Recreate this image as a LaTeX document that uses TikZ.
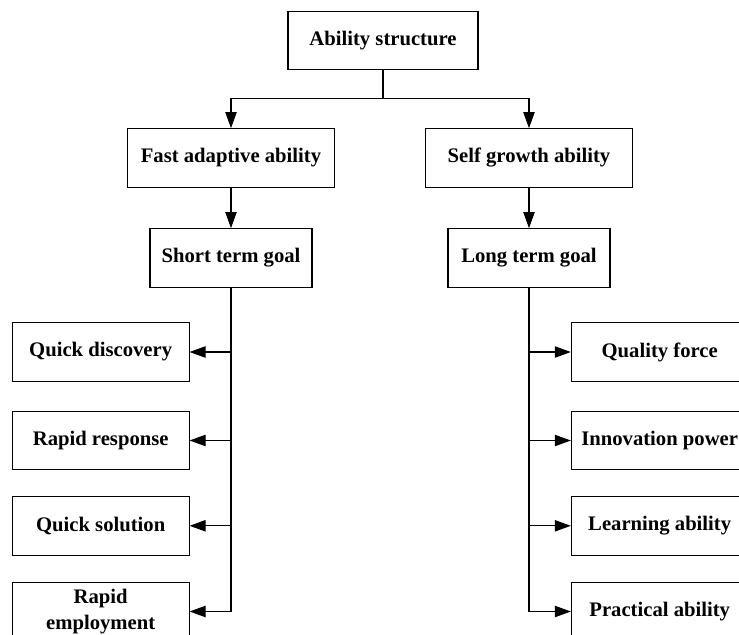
\documentclass[tikz,border=0pt]{standalone}
\usepackage{fontspec}
\setmainfont{Liberation Serif}
\usetikzlibrary{arrows.meta, positioning}

\begin{document}
\begin{tikzpicture}[
			x=0.75pt,
			y=-0.75pt,
			box/.style={
				draw,
				rectangle,
				line width=0.8pt,
				minimum height=44pt,
				inner sep=0pt,
				align=center,
				font=\fontsize{15.5}{19}\selectfont\bfseries
			},
			wide/.style={box, minimum width=155pt},
			goal/.style={box, minimum width=121.5pt},
			leaf/.style={box, minimum width=132.5pt},
			link/.style={
				-{Triangle[length=12pt, width=8.5pt]},
				line width=0.8pt
			}
			]
			\useasboundingbox (0,0) rectangle (739,635);
			\clip (0,0) rectangle (739,635);
			
			% Boxes
			\node[box, minimum width=142.5pt] (ability) at (383,40.5) {Ability structure};
			\node[wide] (fast) at (231,158) {Fast adaptive ability};
			\node[wide] (selfg) at (529,158) {Self growth ability};
			\node[goal] (short) at (231,258) {Short term goal};
			\node[goal] (long) at (529,258) {Long term goal};
			
			\node[leaf] (qdisc) at (100.7,352) {Quick discovery};
			\node[leaf] (rresp) at (100.7,440.5) {Rapid response};
			\node[leaf] (qsol) at (100.7,525.8) {Quick solution};
			\node[leaf] (remp) at (100.7,611.5) {Rapid\\employment};
			
			\node[leaf] (qforce) at (659.7,352) {Quality force};
			\node[leaf] (innov) at (659.7,440.5) {Innovation power};
			\node[leaf] (learn) at (659.7,525.8) {Learning ability};
			\node[leaf] (pract) at (659.7,611.5) {Practical ability};
			
			% Connectors
			\draw[link] (ability.south) -- ++(0,28) -| (fast.north);
			\draw[link] (ability.south) -- ++(0,28) -| (selfg.north);
			\draw[link] (fast) -- (short);
			\draw[link] (selfg) -- (long);
			
			\foreach \leafname in {qdisc, rresp, qsol, remp}
			\draw[link] (short.south) |- (\leafname.east);
			\foreach \leafname in {qforce, innov, learn, pract}
			\draw[link] (long.south) |- (\leafname.west);
		\end{tikzpicture}
\end{document}
